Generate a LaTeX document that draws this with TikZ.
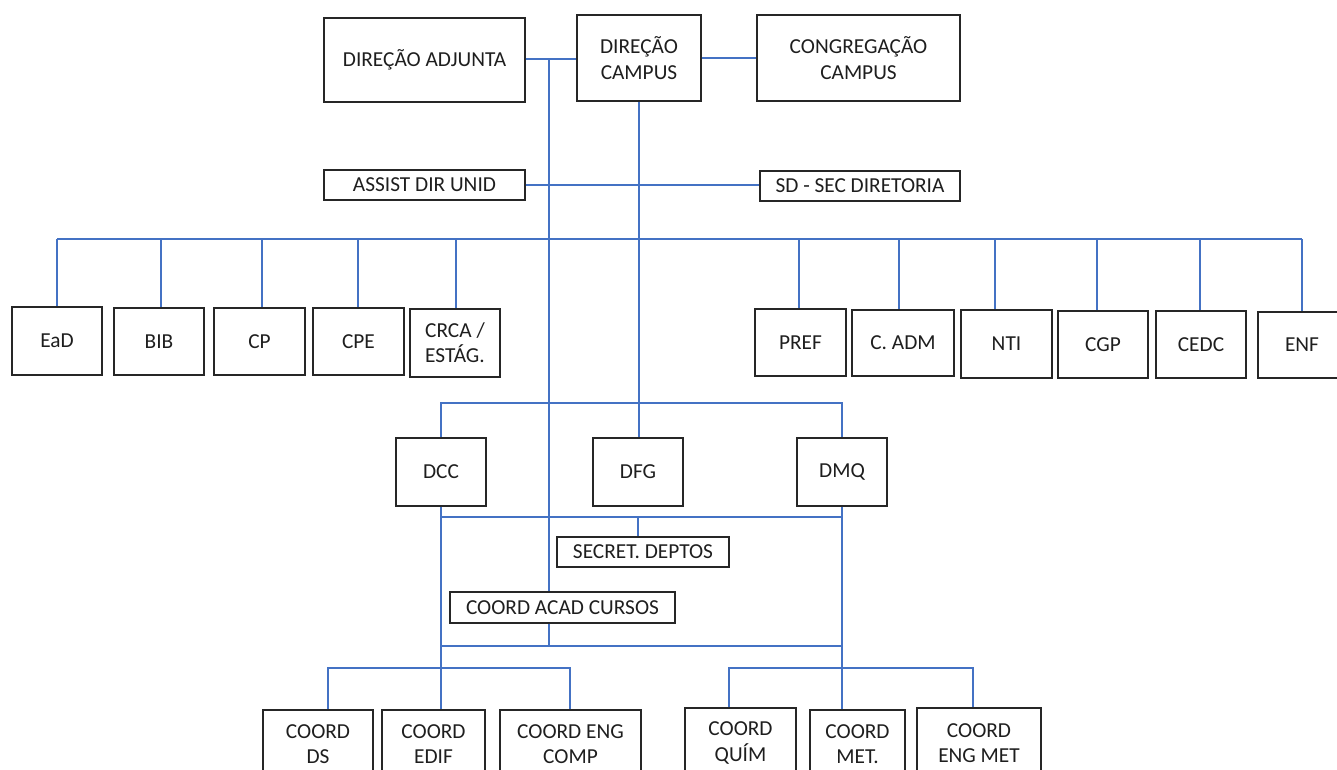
\documentclass[tikz,border=0pt]{standalone}
\usepackage{fontspec}
\setmainfont{Carlito}
\definecolor{linec}{RGB}{68,114,196}
\definecolor{boxc}{RGB}{38,38,38}
\definecolor{txtc}{RGB}{30,30,30}
\newcommand\mkbox[7]{%
  \pgfmathsetmacro\bxw{(#4-#2)*0.75}%
  \pgfmathsetmacro\bxh{(#5-#3)*0.75}%
  \node[box, minimum width=\bxw pt, minimum height=\bxh pt, #6] (#1) at ({(#2+#4)/2},{(#3+#5)/2}) {#7};}
\begin{document}
\begin{tikzpicture}[x=0.75pt,y=-0.75pt,
  box/.style={draw=boxc, line width=1.1pt, inner sep=0pt, align=center,
    text=txtc, font=\fontsize{16}{19}\selectfont},
  conn/.style={draw=linec, line width=1.2pt}]
\useasboundingbox (0,0) rectangle (1337,770);
\clip (0,0) rectangle (1337,770);
% top
\mkbox{dadj}{324}{18}{525}{102}{}{DIREÇÃO ADJUNTA}
\mkbox{dcamp}{577}{15}{701}{101}{}{DIREÇÃO\\CAMPUS}
\mkbox{cong}{757}{15}{960}{101}{}{CONGREGAÇÃO\\CAMPUS}
\mkbox{assist}{324}{170}{525}{200}{}{ASSIST DIR UNID}
\mkbox{sd}{760}{171}{960}{201}{}{SD - SEC DIRETORIA}
% row of units
\mkbox{ead}{12}{307}{102}{375}{}{EaD}
\mkbox{bib}{114}{308}{204}{375}{}{BIB}
\mkbox{cp}{214}{308}{305}{375}{}{CP}
\mkbox{cpe}{313}{308}{404}{375}{}{CPE}
\mkbox{crca}{410}{309}{500}{377}{align=left}{CRCA /\\ESTÁG.}
\mkbox{pref}{755}{309}{846}{376}{}{PREF}
\mkbox{cadm}{852}{310}{954}{376}{}{C. ADM}
\mkbox{nti}{961}{310}{1052}{378}{}{NTI}
\mkbox{cgp}{1058}{311}{1148}{378}{}{CGP}
\mkbox{cedc}{1156}{311}{1246}{378}{}{CEDC}
\mkbox{enf}{1258}{312}{1346}{378}{}{ENF}
% departments
\mkbox{dcc}{396}{438}{486}{506}{}{DCC}
\mkbox{dfg}{593}{438}{683}{506}{}{DFG}
\mkbox{dmq}{797}{438}{887}{506}{}{DMQ}
\mkbox{secret}{557}{537}{729}{567}{}{SECRET. DEPTOS}
\mkbox{cac}{450}{592}{675}{623}{}{COORD ACAD CURSOS}
% coordinations
\mkbox{cds}{263}{710}{373}{778}{}{COORD\\DS}
\mkbox{cedif}{382}{710}{485}{778}{}{COORD\\EDIF}
\mkbox{ceng}{500}{710}{641}{778}{}{COORD ENG\\COMP}
\mkbox{cqui}{685}{708}{796}{778}{}{COORD\\QUÍM}
\mkbox{cmet}{810}{710}{905}{778}{}{COORD\\MET.}
\mkbox{cengmet}{917}{708}{1041}{778}{}{COORD\\ENG MET}
% helper coordinates
\coordinate (j1) at (549,59);
\coordinate (bus) at (0,239);
\coordinate (dbus) at (0,403);
\coordinate (lbus) at (0,517);
\coordinate (cbus) at (0,646);
\coordinate (dds) at (328,668);
\coordinate (deng) at (570,668);
\coordinate (dqui) at (729,668);
\coordinate (dengm) at (973,668);
% top connectors
\draw[conn] (dadj.east |- j1) -- (dcamp.west |- j1);
\draw[conn] (dcamp.east) -- (cong.west |- dcamp.east);
\draw[conn] (j1) -- (j1 |- cac.north);
\draw[conn] (dcamp.south) -- (dcamp.south |- dfg.north);
\draw[conn] (assist.east) -- (assist.east -| sd.west);
% unit bus
\draw[conn] (57,239) -- (1302,239);
\foreach \n/\dx in {ead/57,bib/161,cp/262,cpe/358,crca/456,pref/799,cadm/899,nti/995,cgp/1097,cedc/1200,enf/1302}
  \draw[conn] (\dx,239) -- (\dx,239 |- \n.north);
% department bus
\draw[conn] (dcc.north) -- (dcc.north |- dbus) -- (dmq.north |- dbus) -- (dmq.north);
\draw[conn] (dcc.south |- lbus) -- (dmq.south |- lbus);
\draw[conn] (dfg.south |- lbus) -- (dfg.south |- secret.north);
\draw[conn] (j1 |- cac.south) -- (j1 |- cbus);
\draw[conn] (dcc.south |- cbus) -- (dmq.south |- cbus);
\draw[conn] (dcc.south) -- (dcc.south |- cedif.north);
\draw[conn] (dmq.south) -- (dmq.south |- cmet.north);
% coordination groups
\draw[conn] (dds |- cds.north) -- (dds) -- (deng) -- (deng |- ceng.north);
\draw[conn] (dqui |- cqui.north) -- (dqui) -- (dengm) -- (dengm |- cengmet.north);
\end{tikzpicture}
\end{document}
